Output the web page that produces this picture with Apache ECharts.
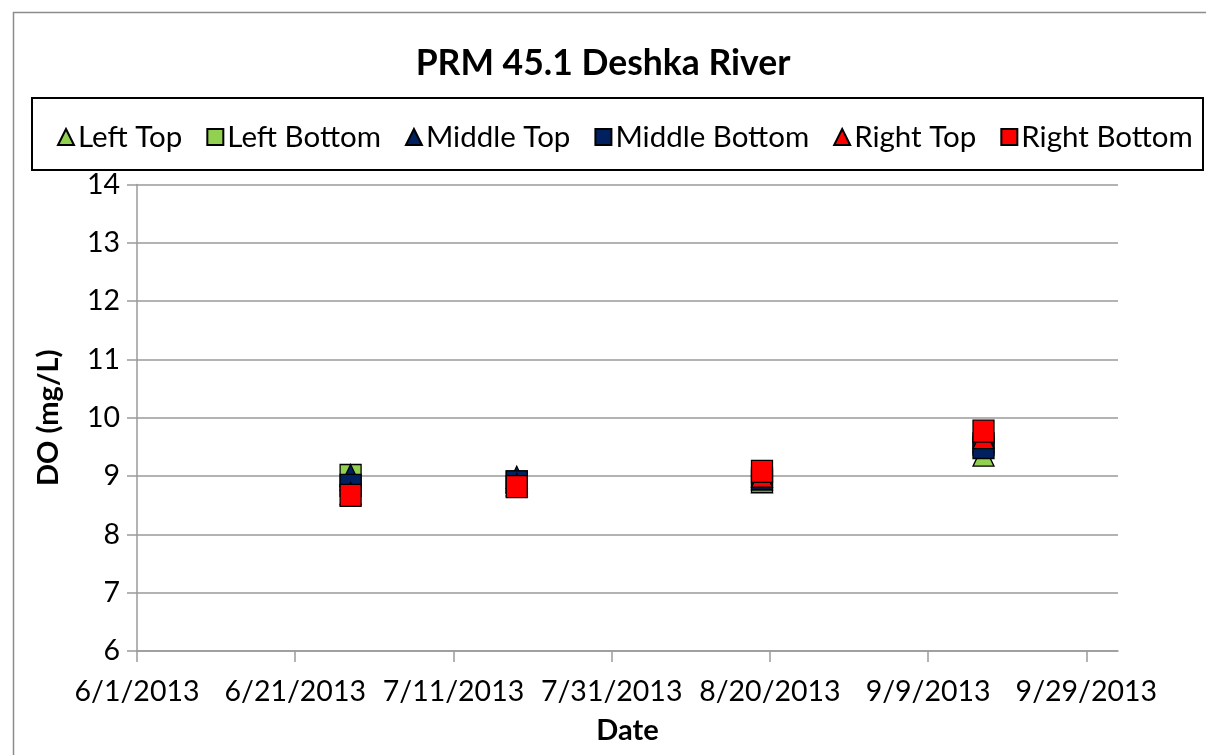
<!DOCTYPE html>
<html>
<head>
<meta charset="utf-8">
<title>PRM 45.1 Deshka River</title>
<script src="https://cdn.jsdelivr.net/npm/echarts@6/dist/echarts.min.js"></script>
<style>
  html, body { margin: 0; padding: 0; background: #ffffff; }
  #chart { width: 1206px; height: 755px; }
</style>
</head>
<body>
<div id="chart"></div>
<script>
// Sampling dates and dissolved oxygen readings (mg/L) at each station position
const sampleDates = ['2013-06-28', '2013-07-19', '2013-08-19', '2013-09-16'];
const leftTop      = [8.95, 8.90, 8.90, 9.36];
const leftBottom   = [9.01, 8.90, 8.91, 9.55];
const middleTop    = [9.01, 8.98, 8.95, 9.60];
const middleBottom = [8.84, 8.90, 8.96, 9.49];
const rightTop     = [8.70, 8.85, 9.00, 9.66];
const rightBottom  = [8.67, 8.82, 9.08, 9.77];

const seriesNames = ['Left Top', 'Left Bottom', 'Middle Top', 'Middle Bottom', 'Right Top', 'Right Bottom'];
const seriesValues = [leftTop, leftBottom, middleTop, middleBottom, rightTop, rightBottom];
const seriesColors = ['#92d050', '#92d050', '#002060', '#002060', '#ff0000', '#ff0000'];
const seriesShapes = ['triangle', 'rect', 'triangle', 'rect', 'triangle', 'rect'];

// Axis settings: x runs in days counted from the first tick date
const xStartDate = '2013-06-01';
const xTickStepDays = 20;
const xEndDays = 124;
const xTickDays = [0, 20, 40, 60, 80, 100, 120];
const yMin = 6, yMax = 14, yStep = 1;

const DAY = 86400000;
function toUTC(s) { const p = s.split('-').map(Number); return Date.UTC(p[0], p[1] - 1, p[2]); }
const t0 = toUTC(xStartDate);
function dayOffset(s) { return Math.round((toUTC(s) - t0) / DAY); }
function dayLabel(v) {
  const d = new Date(t0 + v * DAY);
  return (d.getUTCMonth() + 1) + '/' + d.getUTCDate() + '/' + d.getUTCFullYear();
}

const FONT = 'Lato';
const chart = echarts.init(document.getElementById('chart'), null, { renderer: 'canvas' });

const series = seriesNames.map((name, i) => ({
  name: name,
  type: 'scatter',
  symbol: seriesShapes[i],
  symbolSize: [21, 22],
  z: 2 + i,
  itemStyle: { color: seriesColors[i], borderColor: '#000000', borderWidth: 1.3, opacity: 1 },
  emphasis: { disabled: true },
  data: sampleDates.map((d, k) => [dayOffset(d), seriesValues[i][k]])
}));

const option = {
  animation: false,
  backgroundColor: '#ffffff',
  textStyle: { fontFamily: FONT, color: '#000000' },
  title: {
    text: 'PRM 45.1 Deshka River',
    left: 'center',
    top: 41,
    textStyle: { fontFamily: FONT, fontWeight: 'bold', fontSize: 35.5, color: '#000000' }
  },
  legend: {
    left: 52,
    top: 117,
    itemGap: 24,
    itemWidth: 16,
    itemHeight: 16,
    selectedMode: false,
    textStyle: { fontFamily: FONT, fontSize: 29.5, color: '#000000', padding: [0, 0, 0, -1] },
    data: seriesNames.map((n, i) => ({ name: n, icon: seriesShapes[i] }))
  },
  graphic: [
    { type: 'rect', silent: true, z: -1,
      shape: { x: 13.5, y: 12.5, width: 1200, height: 800 },
      style: { fill: null, stroke: '#8c8c8c', lineWidth: 1.5 } },
    { type: 'rect', silent: true, z: 0,
      shape: { x: 32, y: 98, width: 1171, height: 72 },
      style: { fill: null, stroke: '#000000', lineWidth: 2 } }
  ],
  grid: { left: 137, top: 184.6, right: 88, bottom: 104, containLabel: false },
  xAxis: {
    type: 'value',
    min: 0,
    max: xEndDays,
    interval: xTickStepDays,
    name: 'Date',
    nameLocation: 'middle',
    nameGap: 65,
    nameTextStyle: { fontFamily: FONT, fontWeight: 'bold', fontSize: 29, color: '#000000' },
    axisLine: { show: true, lineStyle: { color: '#9a9a9a', width: 1.5 } },
    axisTick: { show: true, inside: false, length: 11, customValues: xTickDays, lineStyle: { color: '#9a9a9a', width: 1.5 } },
    axisLabel: { fontFamily: FONT, fontSize: 28.5, color: '#000000', margin: 26, customValues: xTickDays, formatter: v => dayLabel(v) },
    splitLine: { show: false }
  },
  yAxis: {
    type: 'value',
    min: yMin,
    max: yMax,
    interval: yStep,
    name: 'DO (mg/L)',
    nameLocation: 'middle',
    nameGap: 74,
    nameRotate: 90,
    nameTextStyle: { fontFamily: FONT, fontWeight: 'bold', fontSize: 29, color: '#000000' },
    axisLine: { show: true, lineStyle: { color: '#9a9a9a', width: 1.5 } },
    axisTick: { show: true, inside: false, length: 10, lineStyle: { color: '#9a9a9a', width: 1.5 } },
    axisLabel: { fontFamily: FONT, fontSize: 28.5, color: '#000000', margin: 17 },
    splitLine: { show: true, lineStyle: { color: '#9a9a9a', width: 1.5 } }
  },
  series: series
};

chart.setOption(option);
</script>
</body>
</html>
